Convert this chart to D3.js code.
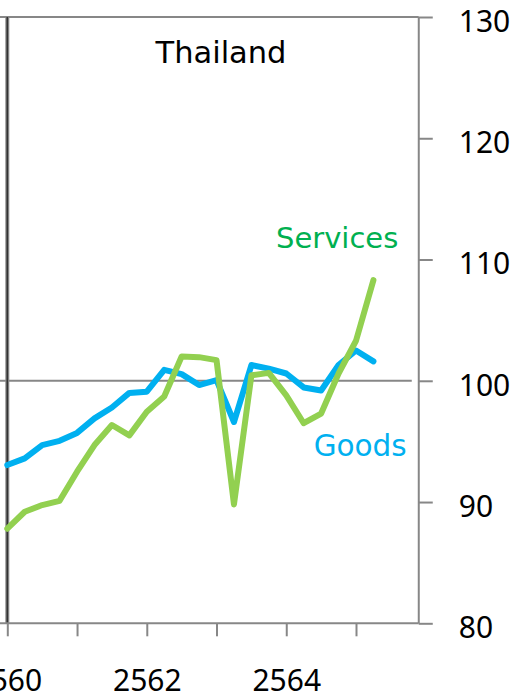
<!DOCTYPE html>
<html><head><meta charset="utf-8">
<script src="https://cdn.jsdelivr.net/npm/d3@7"></script>
<style>html,body{margin:0;padding:0;background:#fff;} svg{display:block}</style>
</head><body><svg id="c" width="526" height="699"></svg>
<script>
// Quarterly data, Thai Buddhist-era years (2560 Q1 ... 2565 Q2)
const periods = ["2560Q1","2560Q2","2560Q3","2560Q4","2561Q1","2561Q2","2561Q3","2561Q4",
  "2562Q1","2562Q2","2562Q3","2562Q4","2563Q1","2563Q2","2563Q3","2563Q4",
  "2564Q1","2564Q2","2564Q3","2564Q4","2565Q1","2565Q2"];
const goods = [93.05,93.6,94.7,95.05,95.7,96.9,97.8,99.0,99.1,100.9,100.55,99.65,
  100.05,96.6,101.3,101.0,100.6,99.45,99.2,101.3,102.5,101.6];
const services = [87.8,89.2,89.75,90.1,92.5,94.7,96.35,95.5,97.45,98.7,102.0,101.95,
  101.7,89.8,100.45,100.65,98.8,96.5,97.3,100.6,103.3,108.3];
const yTicks = [80,90,100,110,120,130];
const xTicks = [2560,2561,2562,2563,2564,2565];
const xTickLabels = {2560:"2560",2562:"2562",2564:"2564"};
const title = "Thailand";
const seriesNames = ["Goods","Services"];

const toYear = p => +p.slice(0,4) + (+p.slice(5)-1)/4;

const svg = d3.select("#c");
const x = d3.scaleLinear().domain([2560,2565]).range([7.3,356]);
const y = d3.scaleLinear().domain([80,130]).range([623.3,17]);
const xRight = x(2565.9);
const axisCol = "#878787";

// top border and 100 reference line
svg.append("line").attr("x1",0).attr("x2",xRight).attr("y1",y(130)).attr("y2",y(130))
  .attr("stroke",axisCol).attr("stroke-width",2);
svg.append("line").attr("x1",0).attr("x2",xRight-7).attr("y1",y(100)).attr("y2",y(100))
  .attr("stroke",axisCol).attr("stroke-width",2);

// left vertical marker at 2560
svg.append("line").attr("x1",x(2560)).attr("x2",x(2560)).attr("y1",y(130)).attr("y2",y(80))
  .attr("stroke","#8a8a8a").attr("stroke-width",4);
svg.append("line").attr("x1",x(2560)).attr("x2",x(2560)).attr("y1",y(130)).attr("y2",y(80))
  .attr("stroke","#333").attr("stroke-width",1.6);

// right axis
const ra = svg.append("g").attr("transform",`translate(${xRight},0)`)
  .call(d3.axisRight(y).tickValues(yTicks).tickSize(14).tickPadding(26));
ra.select(".domain").remove();
ra.append("line").attr("x1",0).attr("x2",0).attr("y1",y(130)).attr("y2",y(80))
  .attr("stroke",axisCol).attr("stroke-width",2);
ra.selectAll(".tick line").attr("stroke",axisCol).attr("stroke-width",2);
ra.selectAll(".tick text").attr("font-family","'Noto Sans'").attr("font-size",30)
  .attr("fill","#000").attr("dy","0.48em");

// bottom axis
const ba = svg.append("g").attr("transform",`translate(0,${y(80)})`)
  .call(d3.axisBottom(x).tickValues(xTicks).tickSize(13).tickPadding(44)
    .tickFormat(d => xTickLabels[d] || ""));
ba.select(".domain").remove();
ba.append("line").attr("x1",0).attr("x2",xRight).attr("y1",0).attr("y2",0)
  .attr("stroke",axisCol).attr("stroke-width",2);
ba.selectAll(".tick line").attr("stroke",axisCol).attr("stroke-width",2);
ba.selectAll(".tick text").attr("font-family","'Noto Sans'").attr("font-size",30)
  .attr("fill","#000").attr("dy","0.35em");

// lines
const line = d3.line().x((d,i)=>x(toYear(periods[i]))).y(d=>y(d));
svg.append("path").datum(goods).attr("d",line).attr("fill","none")
  .attr("stroke","#00b0f0").attr("stroke-width",6)
  .attr("stroke-linejoin","round").attr("stroke-linecap","round");
svg.append("path").datum(services).attr("d",line).attr("fill","none")
  .attr("stroke","#92d050").attr("stroke-width",6)
  .attr("stroke-linejoin","round").attr("stroke-linecap","round");

// labels
const tf = "'DejaVu Sans'";
svg.append("text").attr("x",221).attr("y",63.3).attr("text-anchor","middle")
  .attr("font-family",tf).attr("font-size",30.5).attr("fill","#000").text(title);
svg.append("text").attr("x",398.3).attr("y",248.3).attr("text-anchor","end")
  .attr("font-family",tf).attr("font-size",29).attr("fill","#00b050").text(seriesNames[1]);
svg.append("text").attr("x",406.7).attr("y",456).attr("text-anchor","end")
  .attr("font-family",tf).attr("font-size",29.5).attr("fill","#00b0f0").text(seriesNames[0]);
</script></body></html>
